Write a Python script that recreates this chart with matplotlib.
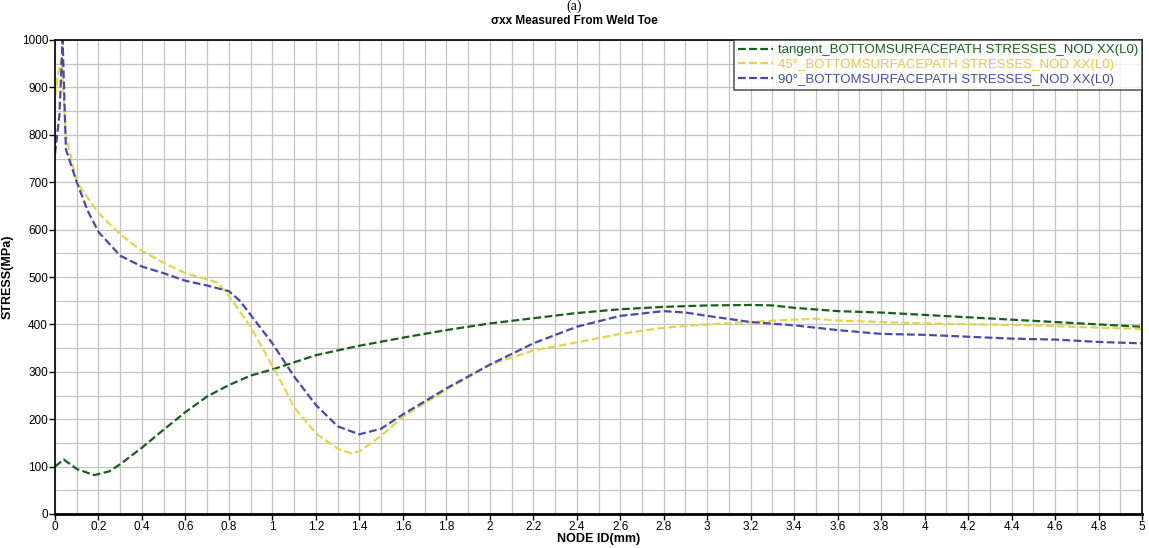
import matplotlib
matplotlib.use("Agg")
import matplotlib.pyplot as plt
import numpy as np

plt.rcParams['font.family'] = ['Liberation Sans', 'DejaVu Sans']

# Data
x_tan = [0.0, 0.04, 0.1, 0.18, 0.25, 0.3, 0.4, 0.5, 0.6, 0.7, 0.8, 0.9, 1.0, 1.1, 1.2, 1.3, 1.4,
         1.6, 1.8, 2.0, 2.2, 2.4, 2.6, 2.8, 3.0, 3.2, 3.3, 3.4, 3.6, 3.8, 4.0, 4.2, 4.4, 4.6, 4.8, 5.0]
y_tan = [100, 115, 95, 82, 90, 105, 140, 178, 215, 248, 272, 292, 305, 320, 335, 345, 355,
         372, 388, 402, 413, 424, 432, 437, 440, 441, 440, 435, 428, 425, 420, 415, 410, 405, 400, 395]

x_45 = [0.0, 0.015, 0.03, 0.05, 0.1, 0.2, 0.3, 0.4, 0.5, 0.6, 0.7, 0.75, 0.8, 0.9, 1.0, 1.05, 1.1,
        1.2, 1.3, 1.36, 1.4, 1.5, 1.6, 1.8, 2.0, 2.2, 2.4, 2.6, 2.8, 3.0, 3.2, 3.4, 3.5, 3.6, 3.8,
        4.0, 4.5, 5.0]
y_45 = [880, 930, 960, 800, 700, 635, 590, 555, 530, 508, 495, 488, 460, 395, 312, 270, 225,
        170, 138, 128, 132, 165, 205, 262, 315, 345, 362, 380, 393, 400, 405, 410, 412, 408, 405,
        402, 398, 390]

x_90 = [0.0, 0.02, 0.035, 0.05, 0.1, 0.15, 0.2, 0.25, 0.3, 0.4, 0.5, 0.6, 0.7, 0.8, 0.85, 0.9,
        1.0, 1.1, 1.2, 1.3, 1.4, 1.5, 1.6, 1.8, 2.0, 2.2, 2.4, 2.6, 2.8, 2.9, 3.0, 3.2, 3.4, 3.6,
        3.8, 4.0, 4.2, 4.4, 4.6, 4.8, 5.0]
y_90 = [760, 840, 1000, 770, 700, 640, 595, 570, 545, 522, 508, 492, 482, 470, 450, 420,
        360, 290, 230, 185, 168, 180, 210, 265, 315, 360, 395, 418, 428, 425, 418, 405, 398, 388,
        380, 378, 374, 370, 368, 363, 360]

labels = ["tangent_BOTTOMSURFACEPATH STRESSES_NOD XX(L0)",
          "45°_BOTTOMSURFACEPATH STRESSES_NOD XX(L0)",
          "90°_BOTTOMSURFACEPATH STRESSES_NOD XX(L0)"]
colors = ["#16601a", "#e6d34e", "#4a4aa6"]
text_colors = ["#16601a", "#e8c84a", "#4a4aa6"]

xticks = np.round(np.arange(0, 5.01, 0.2), 1)
xticklabels = ["0" if v == 0 else ("%g" % v) for v in xticks]
yticks = list(range(0, 1001, 100))

fig = plt.figure(figsize=(11.49, 5.48), dpi=100)
ax = fig.add_axes([55/1149, 34/548, (1142-55)/1149, (514-40)/548])

ax.set_xlim(0, 5)
ax.set_ylim(0, 1000)
ax.set_xticks(xticks)
ax.set_xticklabels(xticklabels)
ax.set_yticks(yticks)
ax.set_xticks(np.arange(0, 5.01, 0.1), minor=True)
ax.set_yticks(range(0, 1001, 50), minor=True)
ax.grid(which="both", color="#c4c4c4", linewidth=0.9)
ax.tick_params(which="minor", length=0)
ax.tick_params(which="major", length=4, width=1, labelsize=8.5, direction="out", pad=1)
ax.set_axisbelow(True)
for s in ax.spines.values():
    s.set_linewidth(1.2)
ax.spines["bottom"].set_linewidth(2)

for xs, ys, c, lab in zip([x_tan, x_45, x_90], [y_tan, y_45, y_90], colors, labels):
    ax.plot(xs, ys, color=c, linestyle=(0, (3.5, 1.5)), linewidth=1.6, label=lab)

leg = ax.legend(loc="upper right", fontsize=9.5, frameon=True, fancybox=False,
                borderaxespad=0, handlelength=2.6, handletextpad=0.4,
                borderpad=0.3, labelspacing=0.2)
leg.get_frame().set_edgecolor("#333333")
leg.get_frame().set_linewidth(1.2)
for t, c in zip(leg.get_texts(), text_colors):
    t.set_color(c)

ax.set_xlabel("NODE ID(mm)", fontsize=9, fontweight="bold", labelpad=0)
ax.set_ylabel("STRESS(MPa)", fontsize=9, fontweight="bold", labelpad=6)
fig.text(0.5, 1 - 21/548, "σxx Measured From Weld Toe", ha="center", va="center",
         fontsize=8.5, fontweight="bold")
fig.text(0.5, 1.0, "(a)", ha="center", va="top", fontsize=10, family="Liberation Serif")

fig.savefig("out.png", dpi=100)
